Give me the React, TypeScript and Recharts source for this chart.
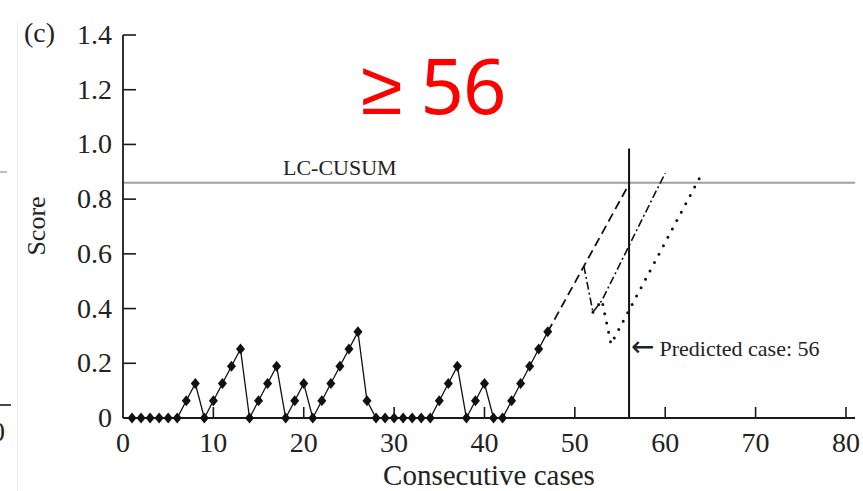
import React from 'react';
import { LineChart, Line, XAxis, YAxis, ReferenceLine } from 'recharts';

// observed LC-CUSUM score for cases 1..47
const observedScores = [
  0, 0, 0, 0, 0, 0, 0.063, 0.126, 0, 0.063, // 1-10
  0.126, 0.189, 0.252, 0, 0.063, 0.126, 0.189, 0, 0.063, 0.126, // 11-20
  0, 0.063, 0.126, 0.189, 0.252, 0.315, 0.063, 0, 0, 0, // 21-30
  0, 0, 0, 0, 0.063, 0.126, 0.189, 0, 0.063, 0.126, // 31-40
  0, 0, 0.063, 0.126, 0.189, 0.252, 0.315, // 41-47
];

// projected paths
const allFailCases = [47, 48, 49, 50, 51, 52, 53, 54, 55, 56];
const allFailScores = [0.315, 0.375, 0.435, 0.495, 0.555, 0.615, 0.675, 0.735, 0.795, 0.855];

const oneSuccessCases = [51, 52, 53, 54, 55, 56, 57, 58, 59, 60];
const oneSuccessScores = [0.555, 0.387, 0.43, 0.497, 0.563, 0.63, 0.697, 0.763, 0.83, 0.895];

const twoSuccessCases = [52, 53, 54, 55, 56, 57, 58, 59, 60, 61, 62, 63, 64];
const twoSuccessScores = [0.387, 0.43, 0.27, 0.332, 0.394, 0.456, 0.518, 0.58, 0.642, 0.704, 0.766, 0.828, 0.89];

const xTicks = [0, 10, 20, 30, 40, 50, 60, 70, 80];
const yTicks = [0, 0.2, 0.4, 0.6, 0.8, 1.0, 1.2, 1.4];

const threshold = 0.86;
const predictedCase = 56;
const predictedLineTop = 0.985;

const observedData = observedScores.map((s, i) => ({ x: i + 1, y: s }));
const allFailData = allFailCases.map((c, i) => ({ x: c, y: allFailScores[i] }));
const oneSuccessData = oneSuccessCases.map((c, i) => ({ x: c, y: oneSuccessScores[i] }));
const twoSuccessData = twoSuccessCases.map((c, i) => ({ x: c, y: twoSuccessScores[i] }));

const serif = '"Liberation Serif", "Times New Roman", serif';
const ink = '#1a1a1a';

const Diamond = (props: any) => {
  const { cx, cy, index } = props;
  if (cx == null || cy == null) return <g key={`dm-${index}`} />;
  return (
    <path
      key={`dm-${index}`}
      d={`M${cx},${cy - 5.5} L${cx + 4.5},${cy} L${cx},${cy + 5.5} L${cx - 4.5},${cy} Z`}
      fill="#111"
    />
  );
};

const XTick = (props: any) => {
  const { x, y, payload } = props;
  return (
    <g>
      {payload.value !== 0 && <line x1={x} x2={x} y1={y} y2={y - 11} stroke={ink} strokeWidth={1.6} />}
      <text x={x} y={y + 34} textAnchor="middle" fontFamily={serif} fontSize={28} fill="#222">
        {payload.value}
      </text>
    </g>
  );
};

const YTick = (props: any) => {
  const { x, y, payload } = props;
  const v = payload.value;
  return (
    <g>
      {v !== 0 && <line x1={x} x2={x + 13} y1={y} y2={y} stroke={ink} strokeWidth={1.6} />}
      <text x={x - 11} y={y + 9} textAnchor="end" fontFamily={serif} fontSize={28} fill="#222">
        {v === 0 ? '0' : v.toFixed(1)}
      </text>
    </g>
  );
};

const App = () => {
  return (
    <div style={{ position: 'absolute', left: 0, top: 0, width: 863, height: 491, background: '#fff' }}>
      <LineChart
        width={863}
        height={491}
        margin={{ top: 35, right: 8, bottom: 0, left: 0 }}
      >
        <XAxis
          type="number"
          dataKey="x"
          domain={[0, 81]}
          ticks={xTicks}
          interval={0}
          height={73}
          tickSize={0}
          tickMargin={0}
          tickLine={false}
          axisLine={{ stroke: ink, strokeWidth: 1.8 }}
          tick={<XTick />}
          allowDuplicatedCategory={false}
        />
        <YAxis
          type="number"
          dataKey="y"
          domain={[0, 1.4]}
          ticks={yTicks}
          interval={0}
          width={123}
          tickSize={0}
          tickMargin={0}
          tickLine={false}
          axisLine={{ stroke: ink, strokeWidth: 1.8 }}
          tick={<YTick />}
        />
        <ReferenceLine y={threshold} stroke="#a0a0a0" strokeWidth={2} />
        <ReferenceLine
          segment={[{ x: predictedCase, y: 0 }, { x: predictedCase, y: predictedLineTop }]}
          stroke="#111"
          strokeWidth={2}
        />
        <Line
          data={allFailData}
          dataKey="y"
          type="linear"
          stroke="#111"
          strokeWidth={1.8}
          strokeDasharray="9 5"
          dot={false}
          activeDot={false}
          isAnimationActive={false}
        />
        <Line
          data={oneSuccessData}
          dataKey="y"
          type="linear"
          stroke="#111"
          strokeWidth={1.6}
          strokeDasharray="8 3 2 3"
          dot={false}
          activeDot={false}
          isAnimationActive={false}
        />
        <Line
          data={twoSuccessData}
          dataKey="y"
          type="linear"
          stroke="#111"
          strokeWidth={3}
          strokeLinecap="round"
          strokeDasharray="0 9.5"
          dot={false}
          activeDot={false}
          isAnimationActive={false}
        />
        <Line
          data={observedData}
          dataKey="y"
          type="linear"
          stroke="#111"
          strokeWidth={1.3}
          dot={<Diamond />}
          activeDot={false}
          isAnimationActive={false}
        />
      </LineChart>

      <svg
        width={863}
        height={491}
        style={{ position: 'absolute', left: 0, top: 0, pointerEvents: 'none' }}
      >
        {/* bits of the neighbouring panel */}
        <line x1={17.5} x2={17.5} y1={22} y2={491} stroke="#ececec" strokeWidth={1} />
        <line x1={0} x2={7} y1={172} y2={172} stroke="#aaa" strokeWidth={1.5} />
        <line x1={0} x2={11} y1={405} y2={405} stroke={ink} strokeWidth={1.6} />
        <text x={-9} y={441} fontFamily={serif} fontSize={28} fill="#222">0</text>

        <text x={24} y={42} fontFamily={serif} fontSize={28} fill="#222">(c)</text>
        <text x={361} y={114} fontFamily='"Noto Sans", sans-serif' fontSize={76} fill="#ff0000" letterSpacing={-1}>
          ≥ 56
        </text>
        <text x={283} y={175} fontFamily={serif} fontSize={22} fill="#222">LC-CUSUM</text>
        <text x={631} y={356} fontFamily={serif} fontSize={22} fill="#222">
          <tspan fontFamily='"DejaVu Sans", sans-serif' fontSize={28} dy={0}>←</tspan>
          <tspan dx={5} dy={0}>Predicted case: 56</tspan>
        </text>
        <text
          x={45}
          y={226}
          transform="rotate(-90, 45, 226)"
          textAnchor="middle"
          fontFamily={serif}
          fontSize={26}
          fill="#222"
        >
          Score
        </text>
        <text x={489} y={485} textAnchor="middle" fontFamily={serif} fontSize={29} fill="#222">
          Consecutive cases
        </text>
      </svg>
    </div>
  );
};

export default App;
